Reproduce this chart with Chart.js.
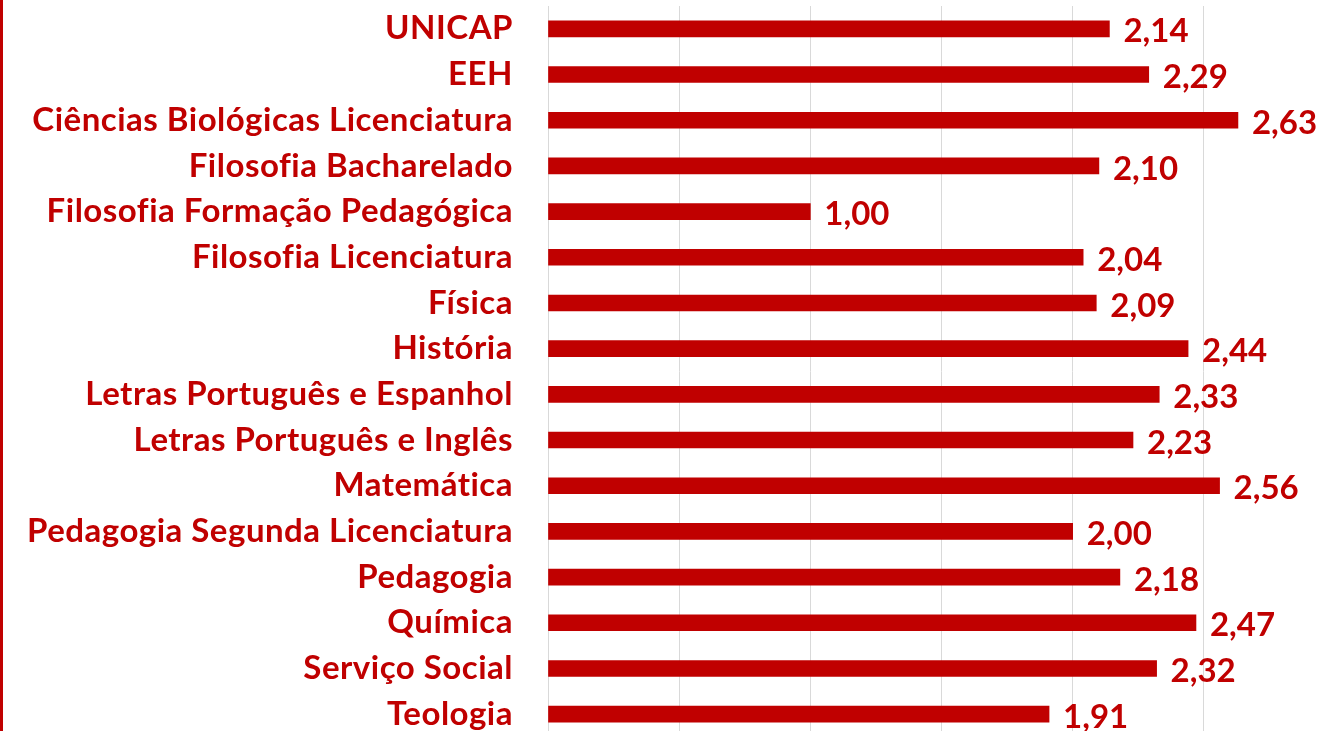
<!DOCTYPE html>
<html>
<head>
<meta charset="utf-8">
<script src="https://cdn.jsdelivr.net/npm/chart.js@4.4.1/dist/chart.umd.min.js"></script>
<style>
  html, body { margin: 0; padding: 0; background: #fff; overflow: hidden; }
  #wrap { position: absolute; left: 0; top: 0; width: 1340px; height: 737px; }
  #edge { position: absolute; left: 0; top: 0; width: 3px; height: 731px; background: #C00000; z-index: 2; }
</style>
</head>
<body>
<div id="edge"></div>
<div id="wrap"><canvas id="chart"></canvas></div>
<script>
const cursos = [
  'UNICAP', 'EEH', 'Ciências Biológicas Licenciatura', 'Filosofia Bacharelado',
  'Filosofia Formação Pedagógica', 'Filosofia Licenciatura', 'Física', 'História',
  'Letras Português e Espanhol', 'Letras Português e Inglês', 'Matemática',
  'Pedagogia Segunda Licenciatura', 'Pedagogia', 'Química', 'Serviço Social', 'Teologia'
];
const medias = [2.14, 2.29, 2.63, 2.10, 1.00, 2.04, 2.09, 2.44, 2.33, 2.23, 2.56, 2.00, 2.18, 2.47, 2.32, 1.91];
const xTicks = [0, 0.5, 1, 1.5, 2, 2.5, 3];

const RED = '#C00000';
const FONT = { family: 'Lato, "Open Sans", sans-serif', size: 33, weight: 'bold' };

// slightly wider category labels (closer to the original font)
const labelSpacing = {
  id: 'labelSpacing',
  beforeDraw(chart) { chart.ctx.letterSpacing = '0.5px'; }
};

// value labels at the end of each bar, with comma decimals
const valueLabels = {
  id: 'valueLabels',
  afterDatasetsDraw(chart) {
    const ctx = chart.ctx;
    const meta = chart.getDatasetMeta(0);
    ctx.save();
    ctx.letterSpacing = '0px';
    ctx.fillStyle = RED;
    ctx.font = `${FONT.weight} ${FONT.size}px ${FONT.family}`;
    ctx.textAlign = 'left';
    ctx.textBaseline = 'middle';
    meta.data.forEach((bar, i) => {
      ctx.fillText(medias[i].toFixed(2).replace('.', ','), bar.x + 14, bar.y + 3);
    });
    ctx.restore();
  }
};

new Chart(document.getElementById('chart'), {
  type: 'bar',
  data: {
    labels: cursos,
    datasets: [{
      data: medias,
      backgroundColor: RED,
      barThickness: 16
    }]
  },
  options: {
    indexAxis: 'y',
    responsive: true,
    maintainAspectRatio: false,
    animation: false,
    layout: { padding: { top: 6, right: 5, bottom: 0, left: 0 } },
    plugins: {
      legend: { display: false },
      tooltip: { enabled: false }
    },
    scales: {
      x: {
        min: 0,
        max: 3,
        afterBuildTicks: s => { s.ticks = xTicks.map(v => ({ value: v })); },
        ticks: { display: false },
        grid: { color: '#D9D9D9', lineWidth: 1, drawTicks: false },
        border: { display: false },
        afterFit: s => { s.height = 0; s.paddingLeft = 0; s.paddingRight = 0; }
      },
      y: {
        ticks: { color: RED, font: FONT, padding: 35, autoSkip: false },
        grid: { display: false, drawTicks: false },
        border: { display: true, color: '#D9D9D9', width: 1 },
        afterFit: s => { s.width = 548; s.paddingTop = 0; s.paddingBottom = 0; }
      }
    }
  },
  plugins: [labelSpacing, valueLabels]
});
</script>
</body>
</html>
